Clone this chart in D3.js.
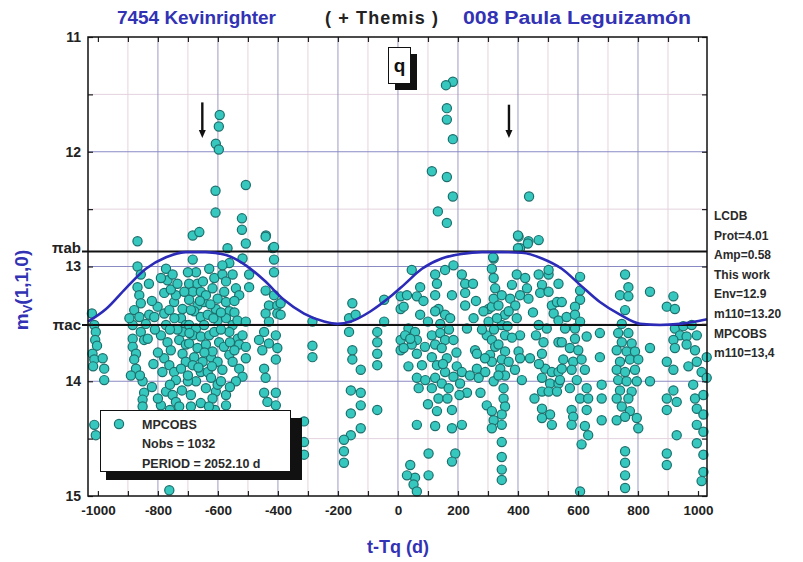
<!DOCTYPE html>
<html><head><meta charset="utf-8">
<script src="https://cdn.jsdelivr.net/npm/d3@7"></script>
<style>
body{margin:0;background:#fff}
svg text{font-family:"Liberation Sans",Arial,sans-serif;font-weight:bold}
</style>
</head><body><svg id="c" width="803" height="562"></svg>
<script>
// ---------------- data ----------------
const xTickLabels = [-1000,-800,-600,-400,-200,0,200,400,600,800,1000];
const yTickLabels = [11,12,13,14,15];
const refLines = [{label:"\u03c0ab", mag:12.87},{label:"\u03c0ac", mag:13.51}];
const envelopeT   = [-1033,-973,-907,-840,-773,-707,-640,-573,-507,-446,-380,-313,-246,-202,-157,-91,-24,20,80,146,213,280,346,413,480,546,607,673,740,807,873,940,1030];
const envelopeMag = [13.48,13.37,13.19,13.02,12.92,12.875,12.875,12.90,12.99,13.12,13.29,13.41,13.48,13.50,13.48,13.39,13.26,13.16,13.02,12.93,12.89,12.875,12.875,12.88,12.93,13.02,13.16,13.31,13.42,13.50,13.51,13.50,13.46];
const arrowT = [-652, 370];
const arrowTop = [11.57, 11.59];
const arrowTip = [11.88, 11.88];
const infoLines = ["LCDB","Prot=4.01","Amp=0.58","This work","Env=12.9","m110=13.20","MPCOBS","m110=13,4"];
const legendLines = ["MPCOBS","Nobs = 1032","PERIOD = 2052.10 d"];
const titleLeft = "7454 Kevinrighter", titleMid = "( + Themis )", titleRight = "008 Paula Leguizam\u00f3n";
const observations = [
[-1020,13.41],[-1012,13.51],[-1007,13.57],[-1009,13.64],[-1003,13.69],[-1018,13.76],[-1012,13.81],[-1016,13.87],[-984,13.80],[-979,13.89],[-979,13.99],[-1012,14.38],[-1007,14.47],
[-868,12.78],[-868,13.00],[-857,13.07],[-868,13.18],[-862,13.25],[-857,13.32],[-879,13.38],[-862,13.44],[-884,13.51],[-857,13.57],[-884,13.63],[-846,13.64],[-884,13.70],[-873,13.76],[-879,13.81],[-873,13.89],[-851,14.00],[-846,14.10],[-851,14.16],[-851,14.22],[-829,13.42],[-834,13.63],
[-801,13.35],[-779,13.41],[-812,13.44],[-773,13.02],[-768,13.12],[-779,13.23],[-751,13.07],[-746,13.31],[-740,13.25],[-762,13.38],[-773,13.51],[-790,13.60],[-768,13.66],[-757,13.73],[-779,13.80],[-762,13.86],[-746,13.92],[-740,13.99],[-773,14.09],[-751,14.12],[-740,14.18],[-790,14.21],[-729,14.22],[-718,13.37],[-723,13.45],[-707,13.51],[-718,13.57],[-729,13.64],[-707,13.68],[-718,13.76],[-707,13.83],[-723,13.89],
[-684,12.73],[-662,12.70],[-684,12.94],[-673,13.05],[-696,13.15],[-668,13.15],[-684,13.22],[-657,13.22],[-696,13.29],[-668,13.34],[-646,13.31],[-679,13.39],[-657,13.44],[-634,13.42],[-696,13.51],[-673,13.54],[-646,13.51],[-684,13.60],[-657,13.61],[-629,13.60],[-696,13.67],[-668,13.71],[-640,13.68],[-679,13.79],[-651,13.83],[-623,13.79],[-684,13.86],[-657,13.92],[-634,13.92],[-673,14.00],[-640,14.06],[-607,14.09],[-657,14.19],[-618,14.15],[-629,13.02],[-612,13.10],[-618,13.19],[-601,13.28],[-607,13.37],[-601,13.47],[-612,13.57],[-596,13.66],[-618,13.74],[-601,13.83],[-623,13.97],[-601,14.03],
[-573,14.12],[-573,14.21],[-562,12.97],[-585,13.07],[-573,13.13],[-579,13.22],[-573,13.31],[-562,13.39],[-568,12.84],[-585,12.99],[-551,13.07],[-540,13.19],[-529,13.25],[-573,13.45],[-551,13.51],[-562,13.57],[-534,13.63],[-529,13.68],[-562,13.77],[-551,13.83],[-529,13.89],[-518,13.96],[-540,14.00],[-518,13.60],[-518,12.93],[-507,13.70],[-507,13.80],
[-790,13.10],[-757,13.20],[-735,13.15],[-712,13.22],[-700,13.05],[-690,13.38],[-745,13.45],[-735,13.55],[-760,13.55],[-695,13.58],[-650,13.13],[-640,13.25],[-625,13.33],[-660,13.30],[-615,13.45],[-590,13.40],[-590,13.55],[-580,13.70],[-585,13.90],[-545,13.30],[-545,13.40],[-535,13.47],[-560,13.66],[-545,13.73],[-590,14.00],[-560,14.05],[-700,14.00],[-720,14.08],[-690,14.12],[-700,13.95],[-760,14.03],[-785,13.92],[-800,13.75],[-810,13.55],[-820,13.30],[-815,13.85],[-840,13.50],[-830,13.15],[-620,13.87],[-645,13.75],[-665,13.88],[-610,14.25],[-630,14.22],[-690,14.22],[-760,14.25],[-800,14.15],[-820,14.05],[-895,13.45],[-890,13.95],[-860,13.95],
[-594,11.68],[-597,11.78],[-607,11.93],[-597,11.98],[-608,12.34],[-507,12.29],[-608,12.53],[-520,12.58],[-520,12.68],[-507,12.80],[-440,12.73],[-417,12.84],[-762,14.95],
[-496,13.07],[-496,13.18],[-507,13.48],
[-441,12.74],[-413,12.83],[-413,12.94],[-413,13.05],[-441,13.21],[-413,13.25],[-430,13.34],[-402,13.34],[-441,13.41],[-402,13.41],[-430,13.48],[-446,13.57],[-407,13.60],[-463,13.64],[-430,13.67],[-452,13.73],[-402,13.71],[-407,13.81],[-446,13.89],[-441,13.97],[-446,14.10],[-407,14.10],[-435,14.18],[-407,14.21],[-391,13.32],[-391,13.42],
[-313,14.35],[-313,14.53],[-313,14.64],
[-285,13.69],[-285,13.79],[-285,13.48],
[-152,13.32],[-163,13.45],[-163,13.57],[-152,13.73],[-152,13.81],[-124,13.90],[-157,14.08],[-124,14.10],[-124,14.21],[-157,14.28],[-124,14.41],[-157,14.47],[-180,14.51],[-180,14.61],[-180,14.71],[-141,13.42],
[-69,13.57],[-69,13.66],[-69,13.76],[-69,13.86],[-46,13.29],[-46,13.48],[-69,14.25],
[9,13.26],[9,13.37],[9,13.64],[9,13.73],
[46,13.03],[30,13.25],[63,13.26],[74,13.18],[19,13.35],[35,13.54],[57,13.57],[24,13.60],[63,13.64],[46,13.68],[19,13.71],[63,13.76],[35,13.87],[80,13.86],[63,13.97],[91,13.99],[69,14.06],[63,14.38],[41,14.73],[57,14.84],[52,14.90],[63,14.96],[102,14.63],[102,14.82],[30,14.82],[41,13.63],[74,13.42],
[124,13.07],[130,13.15],[124,13.25],[157,13.03],[185,12.99],[180,13.25],[135,13.37],[124,13.39],[157,13.42],[174,13.45],[141,13.50],[113,13.60],[141,13.58],[157,13.64],[185,13.64],[124,13.68],[146,13.71],[113,13.79],[163,13.80],[130,13.86],[196,13.87],[157,13.92],[124,13.97],[185,13.96],[146,14.02],[113,14.06],[169,14.06],[207,14.02],[135,14.15],[130,14.26],[180,14.25],[124,14.39],[180,14.41],[213,14.38],[191,14.63],[180,14.70],[213,13.07],[224,13.15],[224,13.23],[224,13.34],[213,13.92],
[252,13.45],[230,13.54],[257,13.73],[263,13.76],[263,13.89],[269,13.97],[302,13.37],[285,13.39],[313,13.35],[319,12.93],[313,13.02],[319,13.10],[324,13.19],[319,13.28],[302,13.48],[296,13.60],[313,13.64],[324,13.70],[307,13.77],[313,13.83],[291,13.92],[319,14.00],[296,14.21],[313,14.26],[319,14.34],[313,14.41],
[346,13.25],[335,13.34],[357,13.42],[346,13.51],[357,13.60],[335,13.68],[357,13.74],[346,13.81],[369,13.83],[341,13.89],[357,13.95],[352,14.06],[352,14.15],[357,14.22],[346,14.29],[346,14.38],[346,14.53],[346,14.66],[346,14.77],[346,14.86],[380,13.16],[396,13.07],[374,13.28],[391,13.34],[407,13.25],[369,13.39],[396,13.45],[407,13.60],[402,13.74],[407,13.80],[402,12.74],[435,12.78],[469,12.77],[407,12.84],[413,13.99],
[430,13.19],[435,13.28],[424,13.10],[469,13.07],[480,13.16],[502,13.07],[474,13.23],[502,13.22],[513,13.34],[530,13.31],[519,13.41],[535,13.47],[496,13.54],[469,13.51],[485,13.66],[535,13.66],[480,13.76],[491,13.89],[513,13.92],[535,13.92],[480,13.97],[507,14.02],[535,14.02],[480,14.09],[502,14.09],[530,14.09],[480,14.24],[507,14.29],[480,14.32],[513,14.38],[502,13.03],[535,13.15],
[250,13.15],[260,13.30],[280,13.55],[290,13.80],[240,13.95],[230,14.10],[275,14.10],[330,13.45],[320,13.55],[335,13.95],[365,13.52],[380,13.62],[390,13.90],[450,13.40],[460,13.60],[440,13.80],[455,14.15],[470,13.85],[100,13.48],[90,13.70],[170,13.55],[195,13.75],[150,13.85],[205,14.12],[165,14.15],[100,14.20],[85,13.30],
[183,11.39],[160,11.42],[163,11.62],[163,11.72],[183,11.89],[113,12.17],[163,12.22],[183,12.39],[133,12.52],[163,12.62],[437,12.39],[400,12.73],[433,12.80],[400,12.84],[317,12.92],
[546,13.31],[562,13.44],[607,13.09],[607,13.21],[607,13.29],[590,13.35],[590,13.42],[607,13.48],[557,13.54],[590,13.54],[546,13.66],[590,13.63],[629,13.61],[573,13.71],[601,13.73],[551,13.81],[584,13.83],[612,13.81],[546,13.89],[579,13.90],[623,13.90],[540,13.99],[596,13.99],[573,14.06],[629,14.06],[607,14.15],[634,14.15],[579,14.25],[629,14.25],[584,14.31],[579,14.38],[623,14.39],[634,14.47],[612,14.55],[607,14.96],[673,13.58],[673,13.79],[679,14.03],[679,14.15],[679,14.34],
[757,13.07],[768,13.18],[740,13.25],[768,13.26],[757,13.38],[746,13.50],[768,13.58],[734,13.58],[746,13.66],[779,13.67],[729,13.73],[762,13.74],[790,13.74],[740,13.83],[773,13.81],[801,13.81],[729,13.90],[757,13.92],[790,13.90],[734,13.99],[762,14.00],[796,14.00],[740,14.08],[779,14.09],[729,14.15],[768,14.15],[746,14.22],[773,14.26],[729,14.34],[757,14.31],[796,14.32],[801,14.41],[757,14.61],[757,14.71],[757,14.82],[757,14.93],[840,13.22],[840,13.71],[840,14.00],
[918,13.26],[896,13.35],[923,13.37],[923,13.54],[951,13.52],[979,13.51],[940,13.60],[918,13.64],[962,13.61],[996,13.60],[923,13.71],[962,13.68],[990,13.73],[896,13.83],[918,13.90],[968,13.87],[996,13.83],[1012,13.92],[984,14.03],[918,14.08],[929,14.18],[896,14.15],[990,14.15],[1018,14.12],[896,14.25],[996,14.24],[1018,14.29],[996,14.38],[1018,14.44],[929,14.47],[996,14.54],[1018,14.64],[896,14.63],[896,14.73],[1018,14.79],[1012,14.87],[1029,13.79],[1029,13.97]
];

// ---------------- chart ----------------
const svg = d3.select("#c");
const L = 88, R = 707, T = 37, B = 496;
const x = d3.scaleLinear().domain([-1033, 1030]).range([L, R]);
const y = d3.scaleLinear().domain([11, 15]).range([T, B]);

const grid = svg.append("g");
grid.selectAll(".vx").data(d3.range(-1000, 1001, 100).filter(v => v % 200 !== 0)).join("line")
  .attr("x1", d => x(d)).attr("x2", d => x(d)).attr("y1", T).attr("y2", B)
  .attr("stroke", "#e4d2de").attr("stroke-width", 1);
grid.selectAll(".hy").data([11.5, 12.5, 13.5, 14.5]).join("line")
  .attr("x1", L).attr("x2", R).attr("y1", d => y(d)).attr("y2", d => y(d))
  .attr("stroke", "#e4d2de").attr("stroke-width", 1);
const grid2 = svg.append("g");
grid2.selectAll(".VX").data(d3.range(-800, 801, 200)).join("line")
  .attr("x1", d => x(d)).attr("x2", d => x(d)).attr("y1", T).attr("y2", B)
  .attr("stroke", "#9c9cc4").attr("stroke-width", 1);
const grid3 = svg.append("g");
grid3.selectAll(".HY").data([12, 13, 14]).join("line")
  .attr("x1", L).attr("x2", R).attr("y1", d => y(d)).attr("y2", d => y(d))
  .attr("stroke", "#8a8ac4").attr("stroke-width", 1);

// observations
svg.append("g").selectAll("circle").data(observations).join("circle")
  .attr("cx", d => x(d[0])).attr("cy", d => y(d[1])).attr("r", 4.6)
  .attr("fill", "#36c7be").attr("stroke", "#1c6f6c").attr("stroke-width", 1.2);

// reference lines
svg.append("g").selectAll("line").data(refLines).join("line")
  .attr("x1", L - 6).attr("x2", R).attr("y1", d => y(d.mag)).attr("y2", d => y(d.mag))
  .attr("stroke", "#111").attr("stroke-width", 2);

// envelope curve
const env = envelopeT.map((t, i) => [t, envelopeMag[i]]);
svg.append("path").datum(env)
  .attr("d", d3.line().x(d => x(d[0])).y(d => y(d[1])).curve(d3.curveMonotoneX))
  .attr("fill", "none").attr("stroke", "#2b2bb8").attr("stroke-width", 2.6);

// arrows
const ag = svg.append("g");
arrowT.forEach((t, i) => {
  const ax = x(t), y0 = y(arrowTop[i]), y1 = y(arrowTip[i]);
  ag.append("line").attr("x1", ax).attr("x2", ax).attr("y1", y0).attr("y2", y1 - 6)
    .attr("stroke", "#111").attr("stroke-width", 2.4);
  ag.append("path").attr("d", `M${ax - 3.5},${y1 - 8}L${ax + 3.5},${y1 - 8}L${ax},${y1}Z`).attr("fill", "#111");
});

// axes (inward ticks)
const fmt = d => String(d);
const axB = svg.append("g").attr("transform", `translate(0,${B})`)
  .call(d3.axisBottom(x).tickValues(d3.range(-1000, 1001, 100)).tickSize(-5).tickPadding(9)
    .tickFormat(d => d % 200 === 0 ? fmt(d) : ""));
const axT = svg.append("g").attr("transform", `translate(0,${T})`)
  .call(d3.axisTop(x).tickValues(d3.range(-1000, 1001, 100)).tickSize(-5).tickFormat(""));
const axL = svg.append("g").attr("transform", `translate(${L},0)`)
  .call(d3.axisLeft(y).tickValues(d3.range(11, 15.01, 0.5)).tickSize(-5).tickPadding(7)
    .tickFormat(d => yTickLabels.includes(d) ? fmt(d) : ""));
const axR = svg.append("g").attr("transform", `translate(${R},0)`)
  .call(d3.axisRight(y).tickValues(d3.range(11, 15.01, 0.5)).tickSize(-5).tickFormat(""));
[axB, axT, axL, axR].forEach(g => {
  g.select(".domain").remove();
  g.selectAll(".tick line").attr("stroke", "#222").attr("stroke-width", 1.2);
  g.selectAll("text").attr("font-size", 13.5).attr("fill", "#222")
    .attr("font-family", "Liberation Sans, Arial, sans-serif").attr("font-weight", "bold");
});
axL.selectAll("text").attr("font-size", 14);

// frame
svg.append("rect").attr("x", L).attr("y", T).attr("width", R - L).attr("height", B - T)
  .attr("fill", "none").attr("stroke", "#111").attr("stroke-width", 1.5);

// reference line labels
svg.append("g").selectAll("text").data(refLines).join("text")
  .attr("x", L - 7).attr("y", (d, i) => y(d.mag) + (i === 0 ? 1 : 5))
  .attr("text-anchor", "end").attr("font-size", 15).attr("fill", "#222").text(d => d.label);

// titles
const titleColor = "#3232b4";
svg.append("text").attr("x", 117).attr("y", 24).attr("font-size", 18).attr("fill", titleColor)
  .attr("textLength", 159).attr("lengthAdjust", "spacingAndGlyphs").text(titleLeft);
svg.append("text").attr("x", 325).attr("y", 24).attr("font-size", 18).attr("fill", "#222")
  .attr("textLength", 113).attr("lengthAdjust", "spacing").text(titleMid);
svg.append("text").attr("x", 463).attr("y", 24).attr("font-size", 18).attr("fill", titleColor)
  .attr("textLength", 228).attr("lengthAdjust", "spacingAndGlyphs").text(titleRight);

svg.append("text").attr("x", 398).attr("y", 553).attr("text-anchor", "middle")
  .attr("font-size", 18).attr("fill", titleColor).text("t-Tq (d)");

const yt = svg.append("text").attr("transform", "translate(28,290) rotate(-90)")
  .attr("text-anchor", "middle").attr("font-size", 19).attr("fill", titleColor);
yt.append("tspan").text("m");
yt.append("tspan").attr("font-size", 13).attr("dy", 4).text("V");
yt.append("tspan").attr("dy", -4).text("(1,1,0)");

// info text on right
svg.append("g").selectAll("text").data(infoLines).join("text")
  .attr("x", 714).attr("y", (d, i) => 220 + i * 19.6)
  .attr("font-size", 12).attr("fill", "#2a2a2a").text(d => d);

// q box
svg.append("rect").attr("x", 395).attr("y", 54).attr("width", 22).attr("height", 36).attr("fill", "#111");
svg.append("rect").attr("x", 388.5).attr("y", 47.5).attr("width", 22).attr("height", 36)
  .attr("fill", "#fff").attr("stroke", "#111").attr("stroke-width", 1);
svg.append("text").attr("x", 399.5).attr("y", 72).attr("text-anchor", "middle")
  .attr("font-size", 19).attr("fill", "#111").text("q");

// legend
svg.append("rect").attr("x", 106).attr("y", 418).attr("width", 196).attr("height", 62).attr("fill", "#111");
svg.append("rect").attr("x", 100.5).attr("y", 410.5).attr("width", 190).attr("height", 61)
  .attr("fill", "#fff").attr("stroke", "#111").attr("stroke-width", 1);
svg.append("circle").attr("cx", 119).attr("cy", 424).attr("r", 4.6)
  .attr("fill", "#36c7be").attr("stroke", "#1c6f6c").attr("stroke-width", 1.2);
svg.append("g").selectAll("text").data(legendLines).join("text")
  .attr("x", 142).attr("y", (d, i) => 428.5 + i * 19.5)
  .attr("font-size", 12.5).attr("fill", "#2a2a2a").text(d => d);
</script>
</body></html>
